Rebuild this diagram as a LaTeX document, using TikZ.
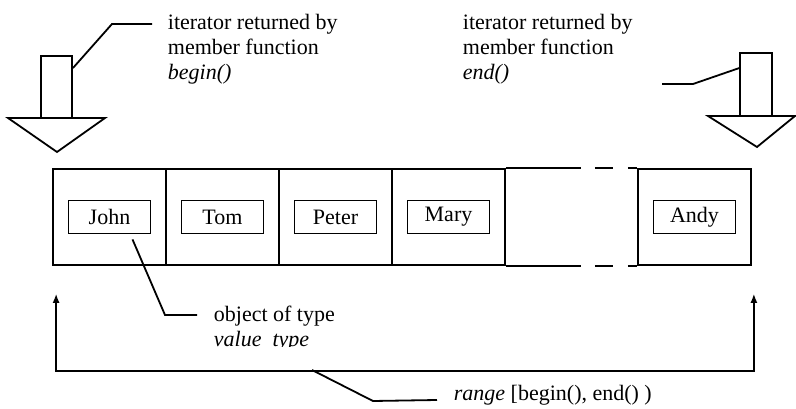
\documentclass[tikz,border=0pt]{standalone}
\usepackage{fontspec}
\setmainfont{Liberation Serif}
\usetikzlibrary{arrows.meta}

\tikzset{
    cellbox/.style={draw,line width=1.8pt,minimum width=113pt,minimum height=96pt,inner sep=0},
    namebox/.style={draw,line width=1.8pt,minimum width=82pt,minimum height=33pt,inner sep=0},
    stembox/.style={draw,line width=1.8pt,minimum width=31pt,minimum height=62pt,inner sep=0},
    note/.style={align=left,inner sep=0,anchor=north west},
    lead/.style={line width=1.8pt}
}

\begin{document}
\begin{tikzpicture}[x=1pt,y=-1pt,font=\fontsize{22}{25}\selectfont,line width=1.8pt]
            \useasboundingbox (0,0) rectangle (796,409);
            \foreach \nm [count=\i] in {John,Tom,Peter,Mary}{
                \node[cellbox] (c\i) at ({109.5+113*(\i-1)},217) {};
                \node[namebox] (n\i) at (c\i) {\nm};
            }
            \node[cellbox] (c5) at (694.5,217) {};
            \node[namebox] (n5) at (c5) {Andy};
            \draw[dash pattern=on 75pt off 14pt on 18pt off 15pt on 20pt] (c4.north east) -- (c5.north west);
            \draw[dash pattern=on 75pt off 14pt on 18pt off 15pt on 20pt] (c4.south east) -- (c5.south west);

            \node[stembox] (bstem) at (56.5,87) {};
            \draw (8,118) -- (105,118) -- (57,152) -- cycle;
            \node[stembox,minimum width=32pt,minimum height=63pt] (estem) at (756,84.5) {};
            \draw (708,116) -- (795,116) -- (757,147) -- cycle;

            \node[note] (btxt) at (167,13) {iterator returned by\\member function\\\textit{begin()}};
            \node[note] (etxt) at (462,13) {iterator returned by\\member function\\\textit{end()}};
            \coordinate (bl) at (152,24);
            \coordinate (el) at (662,84);
            \draw[lead] ([yshift=-13pt]bstem.north east) -- (112,24) -- (bl);
            \draw[lead] ([yshift=-16pt]estem.north west) -- (693,84) -- (el);

            \begin{scope}
                \clip (200,295) rectangle (420,346);
                \node[note] (otxt) at (213,305) {object of type\\\textit{value\_type}};
            \end{scope}
            \coordinate (ol) at (197,315);
            \draw[lead] ([shift={(23pt,-5pt)}]n1.south) -- (165,315) -- (ol);

            \coordinate (rl) at ([shift={(4pt,-28pt)}]c1.south west);
            \coordinate (rr) at ([shift={(2pt,-28pt)}]c5.south east);
            \draw[{Latex[length=9pt,width=7pt]}-{Latex[length=9pt,width=7pt]},line width=1.4pt] (rl) -- ++(0,77) -| (rr);
            \coordinate (rs) at (312,370);
            \node[inner sep=0,anchor=base west] (rtxt) at (453,400) {\textit{range} [begin(), end() )};
            \draw[lead] (rs) -- (373,401) -- ([xshift=-16pt]rtxt.base west);
\end{tikzpicture}
\end{document}
